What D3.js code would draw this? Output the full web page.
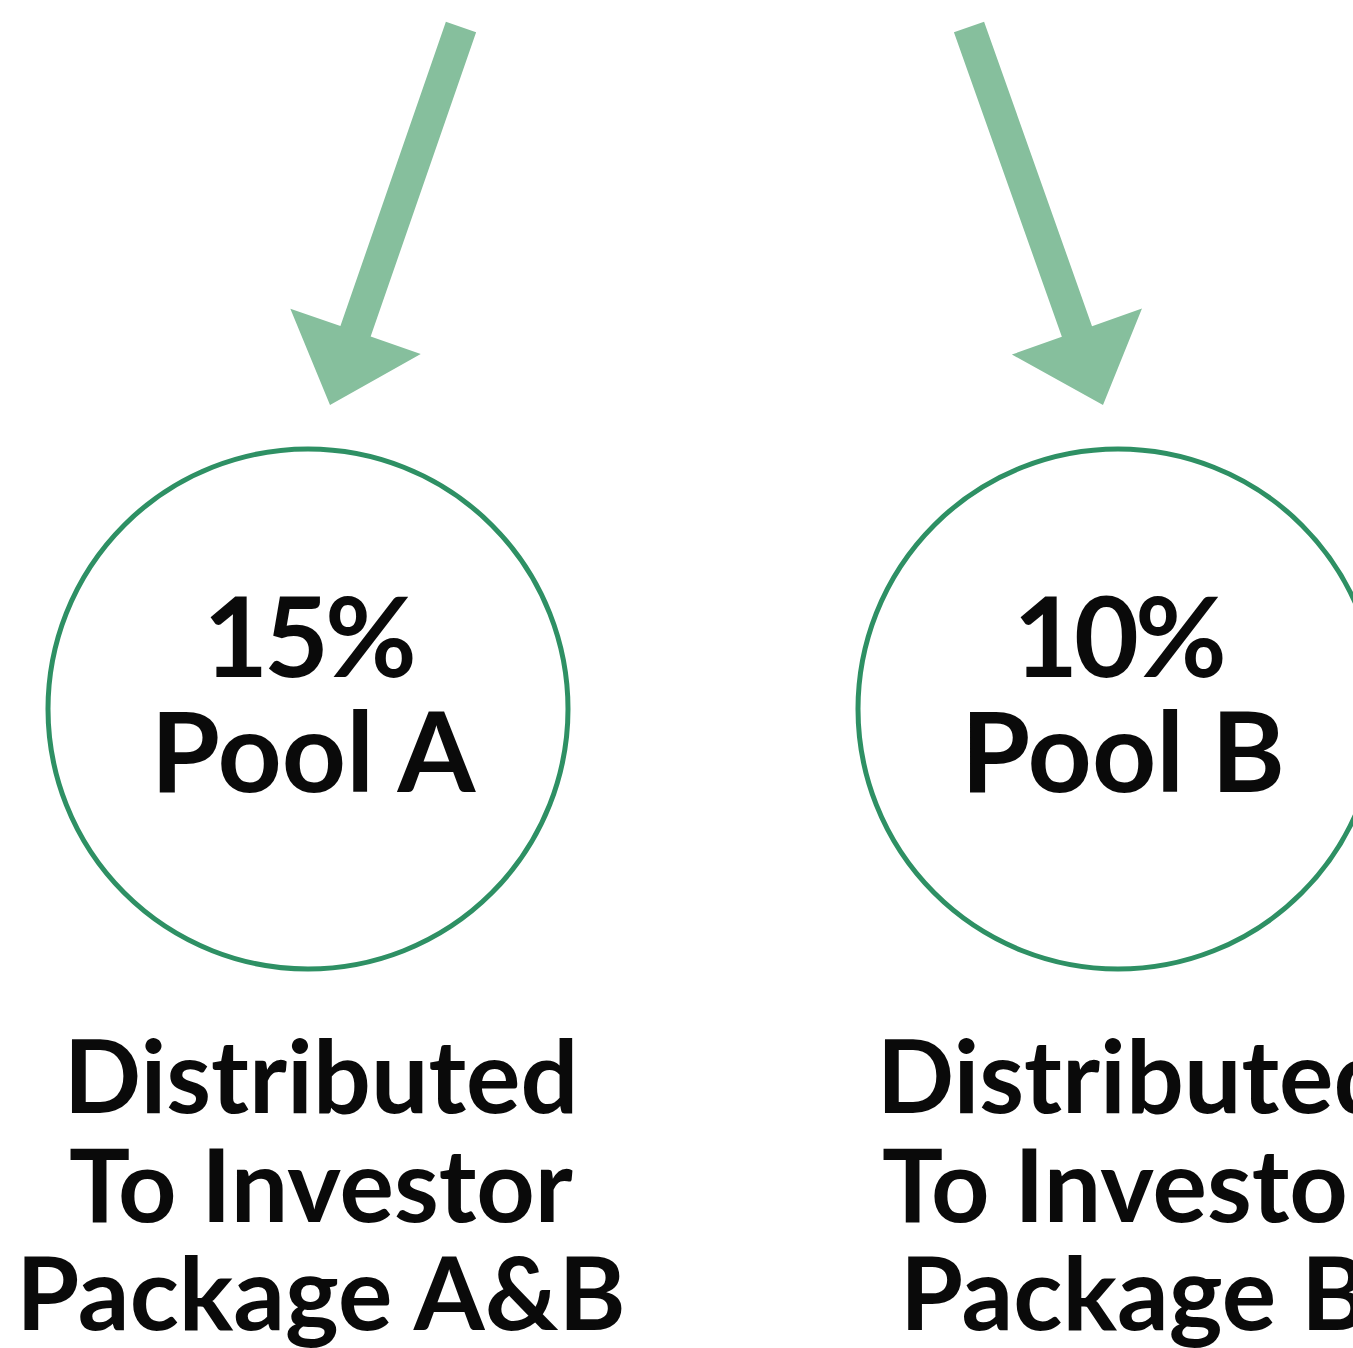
<!DOCTYPE html>
<html>
<head>
<meta charset="utf-8">
<script src="https://cdn.jsdelivr.net/npm/d3@7"></script>
<style>
  html, body { margin: 0; padding: 0; background: #ffffff; }
  svg { display: block; }
  .pct, .pool, .desc {
    font-family: 'Lato', 'Open Sans', sans-serif;
    font-weight: 700;
    fill: #0a0a0a;
    text-anchor: middle;
  }
</style>
</head>
<body>
<div id="vis"></div>
<script>
// data
const pools = ["Pool A", "Pool B"];
const shares = [15, 10];
const descLines = [
  ["Distributed", "To Investor", "Package A&B"],
  ["Distributed", "To Investor", "Package B"]
];

const width = 1353;
const height = 1348;

const svg = d3.select("#vis")
  .append("svg")
  .attr("width", width)
  .attr("height", height);

// column centres
const x = d3.scalePoint()
  .domain(pools)
  .range([308, 1118]);

const textX = d3.scalePoint()
  .domain(pools)
  .range([321, 1134]);

const r = 260;
const cy = 709;

// arrows: top of shaft -> tip
const arrowTop = { "Pool A": [461, 27], "Pool B": [969, 27] };
const arrowTip = { "Pool A": [330, 405], "Pool B": [1103, 405] };

function arrowPath(p0, p1, shaftW, headW, headL) {
  const dx = p1[0] - p0[0], dy = p1[1] - p0[1];
  const len = Math.hypot(dx, dy);
  const ux = dx / len, uy = dy / len;
  const px = -uy, py = ux;
  const bx = p1[0] - ux * headL, by = p1[1] - uy * headL;
  const pts = [
    [p0[0] + px * shaftW / 2, p0[1] + py * shaftW / 2],
    [bx + px * shaftW / 2, by + py * shaftW / 2],
    [bx + px * headW / 2, by + py * headW / 2],
    p1,
    [bx - px * headW / 2, by - py * headW / 2],
    [bx - px * shaftW / 2, by - py * shaftW / 2],
    [p0[0] - px * shaftW / 2, p0[1] - py * shaftW / 2]
  ];
  return d3.line()(pts) + "Z";
}

svg.selectAll(".arrow")
  .data(pools)
  .join("path")
  .attr("class", "arrow")
  .attr("d", d => arrowPath(arrowTop[d], arrowTip[d], 32, 138, 78))
  .attr("fill", "#86bf9d");

svg.selectAll(".ring")
  .data(pools)
  .join("circle")
  .attr("class", "ring")
  .attr("cx", d => x(d))
  .attr("cy", cy)
  .attr("r", r)
  .attr("fill", "none")
  .attr("stroke", "#2e9064")
  .attr("stroke-width", 5);

svg.selectAll(".pct")
  .data(pools)
  .join("text")
  .attr("class", "pct")
  .attr("x", d => x(d))
  .attr("y", 677)
  .attr("font-size", 112)
  .attr("letter-spacing", -4)
  .text((d, i) => shares[i] + "%");

svg.selectAll(".pool")
  .data(pools)
  .join("text")
  .attr("class", "pool")
  .attr("x", d => x(d) + 5)
  .attr("y", 792)
  .attr("font-size", 112)
  .text(d => d);

const lineY = [1113, 1222, 1330];

pools.forEach((p, i) => {
  svg.selectAll(".desc-" + i)
    .data(descLines[i])
    .join("text")
    .attr("class", "desc desc-" + i)
    .attr("x", textX(p))
    .attr("y", (d, j) => lineY[j])
    .attr("font-size", 102)
    .text(d => d);
});
</script>
</body>
</html>
